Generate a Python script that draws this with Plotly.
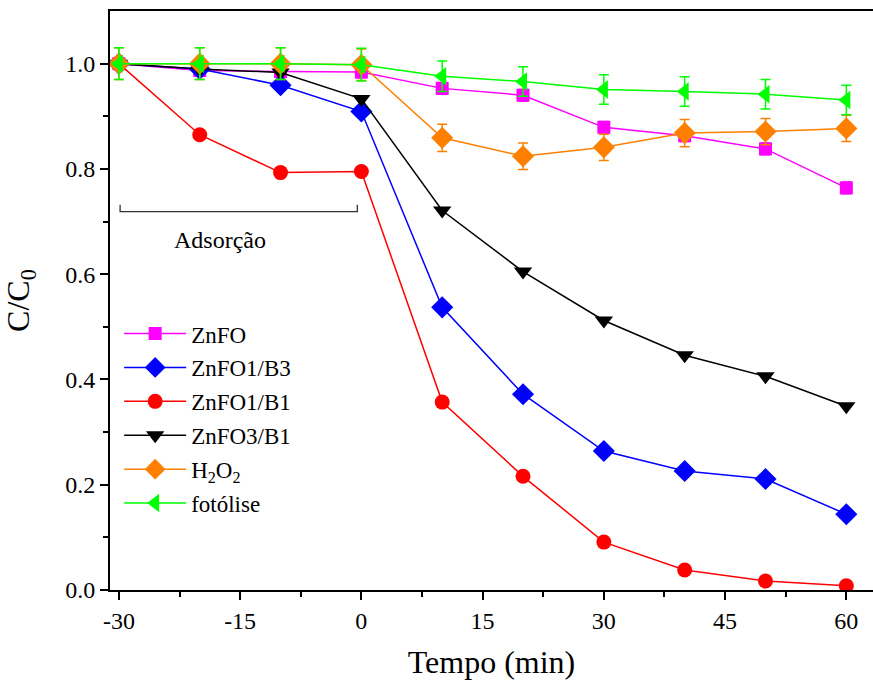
import plotly.graph_objects as go

time_min = [-30, -20, -10, 0, 10, 20, 30, 40, 50, 60]

znfo = [1.0, 0.987, 0.985, 0.984, 0.953, 0.940, 0.879, 0.863, 0.838, 0.764]
znfo_err = [0.011] * 10
znfo1_b3 = [1.0, 0.990, 0.959, 0.909, 0.537, 0.372, 0.264, 0.226, 0.211, 0.144]
znfo1_b1 = [1.0, 0.865, 0.793, 0.795, 0.357, 0.216, 0.091, 0.038, 0.017, 0.008]
znfo3_b1 = [1.0, 0.990, 0.983, 0.933, 0.721, 0.605, 0.512, 0.446, 0.406, 0.349]
h2o2 = [1.0, 1.0, 1.0, 0.998, 0.859, 0.824, 0.841, 0.868, 0.871, 0.877]
h2o2_err = [0.03, 0.03, 0.03, 0.03, 0.026, 0.025, 0.025, 0.026, 0.025, 0.025]
fotolise = [1.0, 1.0, 1.0, 0.998, 0.976, 0.966, 0.951, 0.947, 0.942, 0.931]
fotolise_err = [0.03, 0.03, 0.03, 0.031, 0.029, 0.028, 0.028, 0.028, 0.028, 0.028]

x_ticks = [-30, -15, 0, 15, 30, 45, 60]
x_ticktext = ["-30", "-15", "0", "15", "30", "45", "60"]
y_ticks = [0.0, 0.2, 0.4, 0.6, 0.8, 1.0]
y_ticktext = ["0.0", "0.2", "0.4", "0.6", "0.8", "1.0"]

series = [
    ("ZnFO", znfo, znfo_err, "#FF00FF", "square", 13),
    ("ZnFO1/B3", znfo1_b3, None, "#0000FF", "diamond", 17),
    ("ZnFO1/B1", znfo1_b1, None, "#FF0000", "circle", 15),
    ("ZnFO3/B1", znfo3_b1, None, "#000000", "triangle-down", 16),
    ("H<sub>2</sub>O<sub>2</sub>", h2o2, h2o2_err, "#FF8000", "diamond", 17),
    ("fotólise", fotolise, fotolise_err, "#00FF00", "triangle-left", 16),
]

FONT = "Liberation Serif"

fig = go.Figure()
for i, (name, ys, err, color, sym, size) in enumerate(series):
    kw = {}
    if err is not None:
        kw["error_y"] = dict(type="data", array=err, visible=True, color=color,
                             thickness=1.5, width=5)
    fig.add_trace(go.Scatter(
        x=time_min, y=ys, name=name, mode="lines+markers",
        line=dict(color=color, width=1.5),
        marker=dict(symbol=sym, size=size, color=color, line=dict(width=0)),
        legendgroup=f"g{i}",
        **kw,
    ))

# Adsorção bracket
fig.add_shape(type="path", xref="x", yref="y",
              path="M -29.85,0.732 L -29.85,0.719 L -0.5,0.719 L -0.5,0.732",
              line=dict(color="#333333", width=1.3))
fig.add_annotation(x=-17.5, y=0.665, xref="x", yref="y", text="Adsorção",
                   showarrow=False, font=dict(family=FONT, size=24, color="black"))

fig.update_layout(
    width=873, height=684,
    margin=dict(l=110, r=0, t=11, b=94),
    plot_bgcolor="white", paper_bgcolor="white",
    font=dict(family=FONT, color="black", size=23),
    showlegend=True,
    legend=dict(x=0.012, y=0.48, xanchor="left", yanchor="top",
                font=dict(family=FONT, size=23, color="black"),
                bgcolor="rgba(0,0,0,0)", tracegroupgap=1, itemwidth=62),
)
fig.update_xaxes(
    range=[-31.1, 63.3], tickvals=x_ticks, ticktext=x_ticktext,
    showgrid=False, zeroline=False, showline=True, linecolor="black", linewidth=2,
    mirror=True, ticks="outside", ticklen=8, tickwidth=2, tickcolor="black",
    tickfont=dict(family=FONT, size=24, color="black"),
    minor=dict(tickvals=[-22.5, -7.5, 7.5, 22.5, 37.5, 52.5], ticks="outside",
               ticklen=5, tickwidth=2, tickcolor="black"),
    title=dict(text="Tempo (min)", font=dict(family=FONT, size=32, color="black"), standoff=18),
)
fig.update_yaxes(
    range=[0, 1.1], tickvals=y_ticks, ticktext=y_ticktext,
    showgrid=False, zeroline=False, showline=True, linecolor="black", linewidth=2,
    mirror=False, ticks="outside", ticklen=8, tickwidth=2, tickcolor="black",
    tickfont=dict(family=FONT, size=24, color="black"),
    minor=dict(tickvals=[0.1, 0.3, 0.5, 0.7, 0.9], ticks="outside",
               ticklen=5, tickwidth=2, tickcolor="black"),
    title=dict(text="C/C<sub>0</sub>", font=dict(family=FONT, size=32, color="black"), standoff=30),
)

fig.write_html("out.html")
